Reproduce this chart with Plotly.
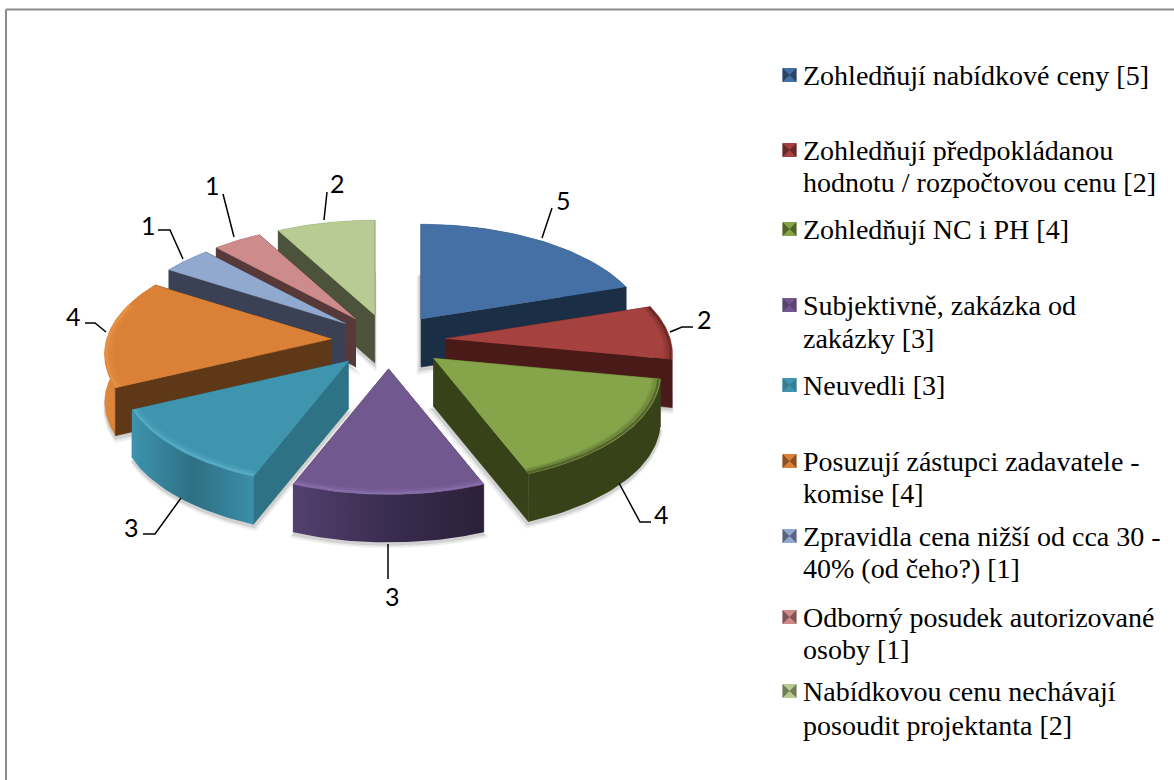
"""Exploded 3D pie: slice geometry comes from the values, projected by hand."""
import numpy as np
import plotly.graph_objects as go

# data
values = [5, 2, 4, 3, 3, 4, 1, 1, 2]
legend_lines = [
    ["Zohledňují nabídkové ceny [5]"],
    ["Zohledňují předpokládanou", "hodnotu / rozpočtovou cenu [2]"],
    ["Zohledňují NC i PH [4]"],
    ["Subjektivně, zakázka od", "zakázky [3]"],
    ["Neuvedli [3]"],
    ["Posuzují zástupci zadavatele -", "komise [4]"],
    ["Zpravidla cena nižší od cca 30 -", "40% (od čeho?) [1]"],
    ["Odborný posudek autorizované", "osoby [1]"],
    ["Nabídkovou cenu nechávají", "posoudit projektanta [2]"],
]

# colours
top_colours = ["#4470A6", "#A5413F", "#86A44A", "#71588F", "#4095AE",
               "#DA8137", "#92A9CF", "#CD8C8B", "#B8CB92"]
wall_colours = ["#1A2E46", "#4A1A18", "#384219", "#4A3A62", "#2E7286",
                "#5F3817", "#3A4155", "#58393A", "#4C533A"]
outer_scales = [
    ["#1A2E46", "#1A2E46"],
    ["#4A1A18", "#4A1A18"],
    ["#384219", "#384219"],
    ["#53406E", "#3A2C50", "#2C2039"],
    ["#3E93AE", "#2E7084", "#3B8EA9"],
    ["#DE873C", "#D07A32"],
    ["#3A4155", "#3A4155"],
    ["#58393A", "#58393A"],
    ["#4C533A", "#4C533A"],
]
rim_colours = [None, "#4A1A18", "#384219", "#9178B5", "#62B8D0",
               "#EE9E50", None, None, None]

# layout of the picture, in pixels
CX, CY = 388.5, 340.5
RADIUS, TILT, PERSP = 225.0, 108.0, 0.14
EXPLODE = 0.253
DEPTH = 48.0
draw_order = [8, 7, 6, 5, 4, 0, 1, 2, 3]

legend_y = [[75], [150, 182], [229], [305, 338], [385],
            [461, 493], [536, 568], [617, 649], [691, 725]]
label_pos = [(563, 200), (704, 319), (661, 514), (392, 596), (131, 527),
             (73, 316), (148, 225), (212, 185), (337, 183)]
leaders = [
    [(542, 238), (552, 208)],
    [(670, 332), (682, 327), (693, 327)],
    [(619, 483), (640, 522), (651, 522)],
    [(388, 544), (388, 579)],
    [(181, 498), (155, 534), (143, 534)],
    [(106, 332), (95, 323), (85, 323)],
    [(183, 259), (170, 230), (158, 230)],
    [(234, 237), (223, 194)],
    [(324, 220), (327, 192)],
]


def project(theta, r, mid, z=0.0):
    """Pie coordinates (clockwise from north) to screen pixels, from the slice apex."""
    side, fwd = r * np.sin(theta), -r * np.cos(theta)
    s = 1 / (1 - PERSP * fwd)
    eside, efwd = EXPLODE * np.sin(mid), -EXPLODE * np.cos(mid)
    es = 1 / (1 - PERSP * efwd)
    return (CX + RADIUS * (eside * es + side * s),
            CY + TILT * (efwd * es + fwd * s) + z)


def polygon(xs, ys, colour, opacity=1.0, scale=None):
    trace = dict(x=list(xs), y=list(ys), mode="lines", fill="toself",
                 opacity=opacity, hoverinfo="skip", showlegend=False)
    if scale:
        stops = np.linspace(0, 1, len(scale))
        trace["fillgradient"] = dict(type="horizontal",
                                     colorscale=[[float(p), c] for p, c in zip(stops, scale)])
        trace["line"] = dict(width=0)
    else:
        trace["fillcolor"] = colour
        trace["line"] = dict(color=colour, width=0.6)
    return go.Scatter(**trace)


fig = go.Figure()

edges = np.cumsum([0] + values) / sum(values) * 2 * np.pi

for i in draw_order:
    a0, a1 = edges[i], edges[i + 1]
    mid = (a0 + a1) / 2
    thetas = np.linspace(a0, a1, 40)
    ax, ay = project(0, 0, mid)
    tx, ty = project(thetas, 1.0, mid)

    # soft shadow under the slab
    bx = np.r_[ax, tx]
    by = np.r_[ay, ty] + DEPTH
    mx, my = bx.mean(), by.mean()
    for grow, drop, op in [(1.035, 5, 0.10), (1.02, 3, 0.18)]:
        fig.add_trace(polygon(mx + (bx - mx) * grow, my + (by - my) * grow + drop,
                              "#555555", op))

    # walls, back to front
    x0, y0 = tx[0], ty[0]
    x1, y1 = tx[-1], ty[-1]
    walls = [
        ((ay + y0) / 2, [ax, x0, x0, ax], [ay, y0, y0 + DEPTH, ay + DEPTH], None),
        ((ay + y1) / 2, [ax, x1, x1, ax], [ay, y1, y1 + DEPTH, ay + DEPTH], None),
        (ty.mean(), np.r_[tx, tx[::-1]], np.r_[ty, ty[::-1] + DEPTH], outer_scales[i]),
    ]
    for _, wx, wy, scale in sorted(walls, key=lambda w: w[0]):
        fig.add_trace(polygon(wx, wy, wall_colours[i], scale=scale))

    # top face
    fig.add_trace(polygon(np.r_[ax, tx], np.r_[ay, ty], top_colours[i]))

    # bevel along the front of the rim, fading inwards
    if rim_colours[i]:
        front = thetas[-np.cos(thetas) > -0.35]
        for r, width, op in [(0.97, 3, 0.10), (0.98, 3, 0.22), (0.992, 2.5, 0.6)]:
            rx, ry = project(front, r, mid)
            fig.add_trace(go.Scatter(x=rx, y=ry, mode="lines", opacity=op,
                                     line=dict(color=rim_colours[i], width=width),
                                     hoverinfo="skip", showlegend=False))

# leader lines and value labels
for i, pts in enumerate(leaders):
    fig.add_trace(go.Scatter(x=[p[0] for p in pts], y=[p[1] for p in pts], mode="lines",
                             line=dict(color="#000000", width=1.5),
                             hoverinfo="skip", showlegend=False))
    fig.add_annotation(x=label_pos[i][0], y=label_pos[i][1], text=str(values[i]),
                       showarrow=False, font=dict(family="Lato", size=25, color="#000000"))

# legend, placed by hand because the row spacing is uneven
for i, lines in enumerate(legend_lines):
    key_y = legend_y[i][0]
    fig.add_trace(go.Scatter(x=[789.5], y=[key_y], mode="markers",
                             marker=dict(symbol="square", size=14, color=top_colours[i],
                                         line=dict(width=0)),
                             hoverinfo="skip", showlegend=False))
    fig.add_trace(go.Scatter(x=[789.5], y=[key_y], mode="markers", opacity=0.65,
                             marker=dict(symbol="bowtie", size=14, color=wall_colours[i],
                                         line=dict(width=0)),
                             hoverinfo="skip", showlegend=False))
    for line, y in zip(lines, legend_y[i]):
        fig.add_annotation(x=801, y=y, text=line, showarrow=False, xanchor="left",
                           font=dict(family="Liberation Serif", size=28, color="#000000"))

# chart frame, only the top and left edges are in view
fig.add_shape(type="line", x0=6, x1=6, y0=9.5, y1=780, line=dict(color="#8C8C8C", width=2))
fig.add_shape(type="line", x0=6, x1=1174, y0=9.5, y1=9.5, line=dict(color="#8C8C8C", width=2))

fig.update_layout(
    width=1174, height=780,
    margin=dict(l=0, r=0, t=0, b=0),
    plot_bgcolor="#FFFFFF", paper_bgcolor="#FFFFFF",
    xaxis=dict(range=[0, 1174], visible=False, fixedrange=True),
    yaxis=dict(range=[780, 0], visible=False, fixedrange=True),
)

fig.write_html("out.html", include_plotlyjs=True, config={"displayModeBar": False},
               post_script="document.body.style.margin='0';")
